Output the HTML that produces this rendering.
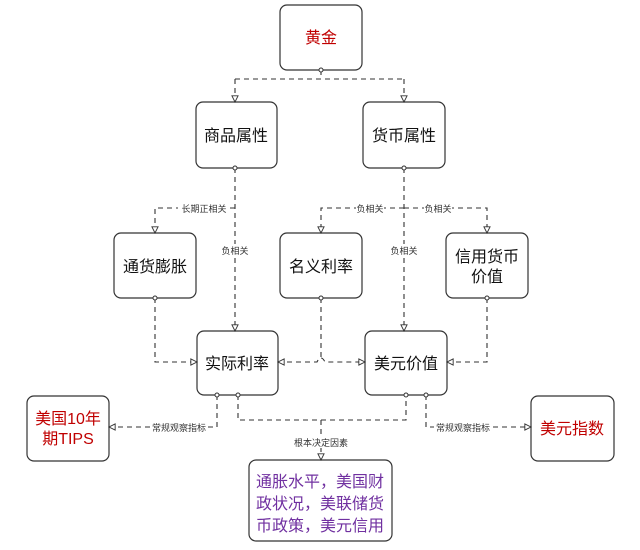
<!DOCTYPE html>
<html><head><meta charset="utf-8"><style>
body{margin:0;background:#fff;}
svg text{font-family:"Liberation Sans","Noto Sans CJK SC",sans-serif;}
</style></head><body>
<svg width="640" height="545" viewBox="0 0 640 545" xmlns="http://www.w3.org/2000/svg">
<defs>
<marker id="a" viewBox="0 0 10 10" refX="9" refY="5" markerWidth="7" markerHeight="7" orient="auto-start-reverse"><path d="M1,1 L9,5 L1,9 Z" fill="#fff" stroke="#333" stroke-width="1.2"/></marker>
</defs>
<g fill="#fff" stroke="#333" stroke-width="1.2">
<rect x="280" y="5" width="82" height="65" rx="7"/>
<rect x="196" y="102" width="81" height="66" rx="7"/>
<rect x="363" y="102" width="82" height="66" rx="7"/>
<rect x="114" y="233" width="82" height="65" rx="7"/>
<rect x="280" y="233" width="82" height="65" rx="7"/>
<rect x="446" y="233" width="82" height="65" rx="7"/>
<rect x="197" y="331" width="81" height="64" rx="7"/>
<rect x="365" y="331" width="82" height="64" rx="7"/>
<rect x="27" y="396" width="82" height="65" rx="7"/>
<rect x="531" y="396" width="83" height="65" rx="7"/>
<rect x="249" y="460" width="143" height="81" rx="7"/>
</g>
<g fill="none" stroke="#333" stroke-width="1.1" stroke-dasharray="5,4">
<path d="M321 70 V79 M235 79 H404 M235 79 V102" marker-end="url(#a)"/>
<path d="M404 79 V102" marker-end="url(#a)"/>
<path d="M235 168 V331" marker-end="url(#a)"/>
<path d="M235 208 H155 V233" marker-end="url(#a)"/>
<path d="M404 168 V331" marker-end="url(#a)"/>
<path d="M404 208 H321 V233" marker-end="url(#a)"/>
<path d="M404 208 H487 V233" marker-end="url(#a)"/>
<path d="M155 298 V362 H197" marker-end="url(#a)"/>
<path d="M278 362 H317 Q321 354 325 362 H365" marker-start="url(#a)" marker-end="url(#a)"/>
<path d="M321 298 V358"/>
<path d="M487 298 V362 H447" marker-end="url(#a)"/>
<path d="M217 395 V427 H109" marker-end="url(#a)"/>
<path d="M238 395 V420 H406 V395"/>
<path d="M321 420 V460" marker-end="url(#a)"/>
<path d="M426 395 V427 H531" marker-end="url(#a)"/>
</g>
<g fill="#333" stroke="#333" stroke-width="1">
<circle cx="321" cy="70" r="2" fill="#fff"/><circle cx="235" cy="168" r="2" fill="#fff"/><circle cx="404" cy="168" r="2" fill="#fff"/>
<circle cx="155" cy="298" r="2" fill="#fff"/><circle cx="321" cy="298" r="2" fill="#fff"/><circle cx="487" cy="298" r="2" fill="#fff"/>
<circle cx="217" cy="395" r="2" fill="#fff"/><circle cx="238" cy="395" r="2" fill="#fff"/><circle cx="406" cy="395" r="2" fill="#fff"/><circle cx="426" cy="395" r="2" fill="#fff"/>
</g>
<g font-size="9" fill="#333" text-anchor="middle">
<rect x="178" y="202" width="52" height="12" fill="#fff"/><text x="204" y="212">长期正相关</text>
<rect x="222" y="244" width="26" height="12" fill="#fff"/><text x="235" y="254">负相关</text>
<rect x="356" y="202" width="28" height="12" fill="#fff"/><text x="370" y="212">负相关</text>
<rect x="424" y="202" width="28" height="12" fill="#fff"/><text x="438" y="212">负相关</text>
<rect x="390" y="244" width="28" height="12" fill="#fff"/><text x="404" y="254">负相关</text>
<rect x="150" y="421" width="58" height="12" fill="#fff"/><text x="179" y="431">常规观察指标</text>
<rect x="434" y="421" width="58" height="12" fill="#fff"/><text x="463" y="431">常规观察指标</text>
<rect x="292" y="436" width="58" height="12" fill="#fff"/><text x="321" y="446">根本决定因素</text>
</g>
<g font-size="16" fill="#111" text-anchor="middle">
<text x="321" y="43" fill="#c00000">黄金</text>
<text x="236" y="141">商品属性</text>
<text x="404" y="141">货币属性</text>
<text x="155" y="272">通货膨胀</text>
<text x="321" y="272">名义利率</text>
<text x="487" y="262">信用货币</text><text x="487" y="282">价值</text>
<text x="237" y="369">实际利率</text>
<text x="406" y="369">美元价值</text>
<text x="68" y="424" fill="#c00000">美国10年</text><text x="68" y="444" fill="#c00000">期TIPS</text>
<text x="572" y="434" fill="#c00000">美元指数</text>
<g fill="#7030a0"><text x="320" y="487">通胀水平，美国财</text><text x="320" y="509">政状况，美联储货</text><text x="320" y="531">币政策，美元信用</text></g>
</g>
</svg>
</body></html>
